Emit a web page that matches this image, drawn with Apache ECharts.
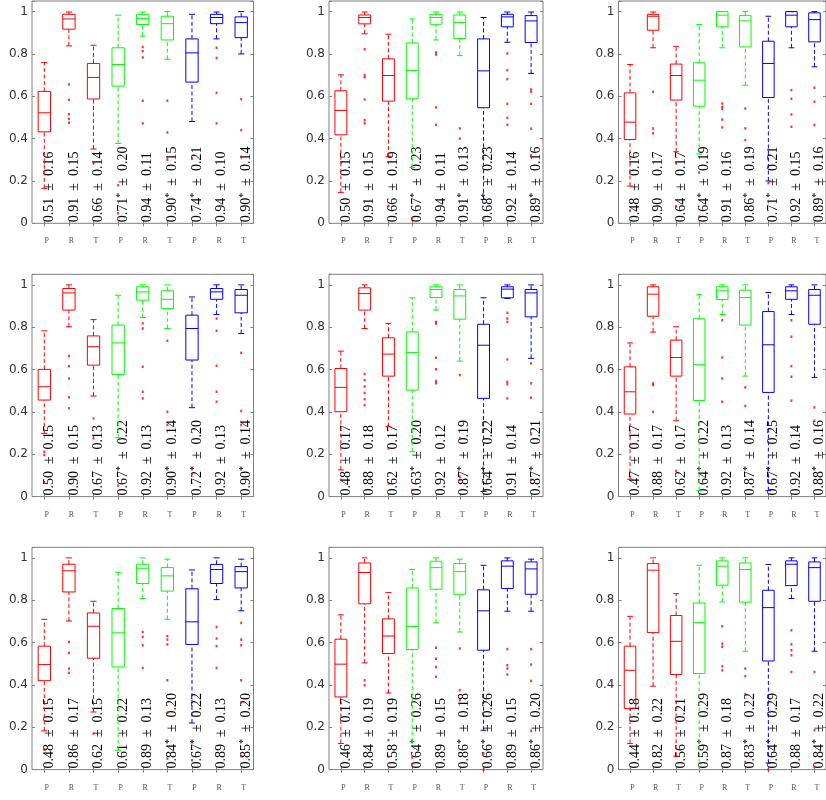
<!DOCTYPE html>
<html><head><meta charset="utf-8">
<script src="https://cdn.jsdelivr.net/npm/echarts@6/dist/echarts.min.js"></script>
<style>html,body{margin:0;padding:0;background:#fff}#c{width:826px;height:800px}</style>
</head><body><div id="c"></div>
<script>
// ---------- data ----------
const categories = ['P','R','T','P','R','T','P','R','T'];
const boxColorIndex = [0,0,0,1,1,1,2,2,2];
const yTicks = [0, 0.2, 0.4, 0.6, 0.8, 1];

// box stats per box: [min(whisker), q1, median, q3, max(whisker)]
const panel1Stats = [[0.165,0.432,0.522,0.623,0.759],[0.838,0.917,0.965,0.987,0.998],[0.351,0.587,0.689,0.755,0.841],[0.377,0.648,0.750,0.829,0.983],[0.884,0.939,0.967,0.987,0.998],[0.775,0.866,0.943,0.978,1.000],[0.481,0.667,0.805,0.871,0.987],[0.871,0.943,0.972,0.987,0.998],[0.800,0.877,0.948,0.975,1.000]];
const panel2Stats = [[0.146,0.418,0.533,0.626,0.701],[0.895,0.942,0.972,0.984,0.998],[0.315,0.577,0.698,0.777,0.893],[0.264,0.588,0.722,0.852,0.965],[0.866,0.940,0.972,0.987,0.998],[0.792,0.873,0.948,0.984,0.998],[0.113,0.546,0.720,0.871,0.972],[0.855,0.928,0.975,0.987,0.998],[0.708,0.854,0.956,0.981,0.998]];
const panel3Stats = [[0.176,0.396,0.478,0.616,0.750],[0.829,0.912,0.978,0.987,0.998],[0.338,0.582,0.698,0.752,0.836],[0.327,0.553,0.676,0.758,0.939],[0.829,0.928,0.983,1.000,1.000],[0.652,0.833,0.956,0.981,1.000],[0.200,0.594,0.755,0.860,0.978],[0.829,0.928,0.983,1.000,1.000],[0.739,0.857,0.962,0.994,1.000]];
const panel4Stats = [[0.299,0.456,0.519,0.601,0.783],[0.802,0.881,0.962,0.983,1.000],[0.475,0.621,0.708,0.759,0.836],[0.278,0.577,0.726,0.810,0.951],[0.846,0.928,0.967,0.991,1.000],[0.794,0.888,0.932,0.972,1.000],[0.420,0.645,0.794,0.857,0.943],[0.860,0.932,0.967,0.983,1.000],[0.770,0.868,0.951,0.978,1.000]];
const panel5Stats = [[0.126,0.401,0.516,0.605,0.687],[0.794,0.881,0.959,0.986,1.000],[0.330,0.569,0.673,0.750,0.818],[0.212,0.503,0.681,0.778,0.939],[0.881,0.940,0.978,0.991,1.000],[0.640,0.838,0.948,0.978,1.000],[0.024,0.464,0.715,0.814,0.939],[0.936,0.939,0.980,0.991,1.000],[0.653,0.849,0.962,0.978,1.000]];
const panel6Stats = [[0.082,0.390,0.495,0.613,0.726],[0.777,0.852,0.956,0.991,1.000],[0.358,0.569,0.657,0.739,0.802],[0.028,0.454,0.623,0.840,0.954],[0.860,0.931,0.972,0.991,1.000],[0.569,0.810,0.940,0.975,1.000],[0.028,0.492,0.717,0.874,0.964],[0.860,0.932,0.972,0.991,1.000],[0.563,0.814,0.951,0.978,1.000]];
const panel7Stats = [[0.183,0.420,0.496,0.583,0.710],[0.702,0.839,0.939,0.970,1.000],[0.272,0.526,0.677,0.740,0.795],[0.091,0.485,0.646,0.761,0.932],[0.808,0.879,0.951,0.970,1.000],[0.710,0.843,0.915,0.954,0.994],[0.220,0.591,0.698,0.854,0.943],[0.803,0.879,0.945,0.969,1.000],[0.750,0.858,0.935,0.959,0.994]];
const panel8Stats = [[0.123,0.343,0.498,0.616,0.731],[0.504,0.783,0.931,0.976,1.000],[0.362,0.548,0.631,0.712,0.836],[0.131,0.567,0.676,0.858,0.945],[0.693,0.852,0.954,0.984,1.000],[0.650,0.828,0.935,0.973,0.994],[0.186,0.564,0.750,0.849,0.965],[0.748,0.855,0.961,0.986,1.000],[0.748,0.828,0.948,0.981,0.994]];
const panel9Stats = [[0.123,0.288,0.469,0.583,0.724],[0.394,0.647,0.942,0.973,1.000],[0.063,0.449,0.606,0.728,0.831],[0.000,0.454,0.694,0.787,0.965],[0.792,0.871,0.961,0.986,1.000],[0.559,0.791,0.945,0.976,1.000],[0.031,0.513,0.765,0.847,0.969],[0.808,0.869,0.970,0.986,1.000],[0.559,0.795,0.954,0.981,1.000]];

// outliers per box
const panel1Outliers = [[],[0.656,0.583,0.515,0.493,0.475],[0.283],[0.180,0.047],[0.833,0.813,0.783,0.579,0.472],[0.579,0.429,0.300],[0.307,0.063],[0.829,0.781,0.616,0.472],[0.586,0.440,0.314]];
const panel2Outliers = [[],[0.822,0.700,0.690,0.585,0.487,0.472],[0.082],[0.019],[0.807,0.797,0.547,0.465],[0.448,0.400],[0.024],[0.802,0.723,0.681,0.564,0.498,0.465],[0.632,0.621,0.564,0.447,0.322]];
const panel3Outliers = [[0.060],[0.621,0.448,0.425],[0.283,0.079],[0.240,0.031],[0.566,0.550,0.540,0.490,0.453],[0.542,0.448,0.393],[0.190],[0.629,0.588,0.514,0.456],[0.640,0.574,0.464]];
const panel4Outliers = [[0.212,0.197,0.068],[0.664,0.616,0.558,0.469,0.417],[0.369,0.275],[0.052],[0.818,0.794,0.613,0.495,0.464],[0.736,0.400,0.338],[0.107],[0.841,0.783,0.618,0.495,0.448],[0.679,0.404,0.338]];
const panel5Outliers = [[0.079],[0.579,0.550,0.520,0.490,0.460,0.432],[0.228,0.063],[0.031],[0.825,0.818,0.656,0.602,0.546,0.535],[0.574,0.275,0.094,0.079],[],[0.868,0.841,0.825,0.648,0.542,0.531,0.464],[0.629,0.535,0.467,0.294,0.079]];
const panel6Outliers = [[],[0.535,0.527,0.400],[0.121],[],[0.833,0.657,0.558,0.448],[0.516,0.428],[],[0.833,0.755,0.616,0.566,0.453],[0.421,0.358]];
const panel7Outliers = [[0.094],[0.603,0.551,0.477,0.457],[0.170],[],[0.650,0.627,0.587,0.480],[0.630,0.614,0.591,0.422,0.268,0.052],[0.131,0.044],[0.674,0.619,0.583,0.480],[0.693,0.614,0.587,0.422,0.317,0.063]];
const panel8Outliers = [[],[0.422,0.398],[0.280,0.139,0.060],[0.057,0.025],[0.576,0.524,0.485,0.438],[0.572,0.375,0.328],[0.076,0.000],[0.569,0.493,0.477,0.449],[0.569,0.496,0.419,0.183]];
const panel9Outliers = [[],[],[],[],[0.677,0.595,0.580,0.488,0.469],[0.477,0.441,0.356,0.036],[0.000],[0.658,0.592,0.564,0.540,0.461],[0.461,0.186,0.013]];

// annotation texts: mean (with * mark) and std
const panel1Means = ['0.51','0.91','0.66','0.71*','0.94','0.90*','0.74*','0.94','0.90*'];
const panel1Stds  = ['0.16','0.15','0.14','0.20','0.11','0.15','0.21','0.10','0.14'];
const panel2Means = ['0.50','0.91','0.66','0.67*','0.94','0.91*','0.68*','0.92','0.89*'];
const panel2Stds  = ['0.15','0.15','0.19','0.23','0.11','0.13','0.23','0.14','0.16'];
const panel3Means = ['0.48','0.90','0.64','0.64*','0.91','0.86*','0.71*','0.92','0.89*'];
const panel3Stds  = ['0.16','0.17','0.17','0.19','0.16','0.19','0.21','0.15','0.16'];
const panel4Means = ['0.50','0.90','0.67','0.67*','0.92','0.90*','0.72*','0.92','0.90*'];
const panel4Stds  = ['0.15','0.15','0.13','0.22','0.13','0.14','0.20','0.13','0.14'];
const panel5Means = ['0.48','0.88','0.62','0.63*','0.92','0.87*','0.64*','0.91','0.87*'];
const panel5Stds  = ['0.17','0.18','0.17','0.20','0.12','0.19','0.22','0.14','0.21'];
const panel6Means = ['0.47','0.88','0.62','0.64*','0.92','0.87*','0.67*','0.92','0.88*'];
const panel6Stds  = ['0.17','0.17','0.17','0.22','0.13','0.14','0.25','0.14','0.16'];
const panel7Means = ['0.48','0.86','0.62','0.61','0.89','0.84*','0.67*','0.89','0.85*'];
const panel7Stds  = ['0.15','0.17','0.15','0.22','0.13','0.20','0.22','0.13','0.20'];
const panel8Means = ['0.46','0.84','0.58','0.64*','0.89','0.86*','0.66*','0.89','0.86*'];
const panel8Stds  = ['0.17','0.19','0.19','0.26','0.15','0.18','0.26','0.15','0.20'];
const panel9Means = ['0.44','0.82','0.56','0.59*','0.87','0.83*','0.64*','0.88','0.84*'];
const panel9Stds  = ['0.18','0.22','0.21','0.29','0.18','0.22','0.29','0.17','0.22'];

// ---------- layout / style ----------
const palette = ['#ff0000', '#00ff00', '#0000ff'];
const colLeft = [32, 329, 618.5];
const colWidth = [221.5, 214, 214];
const rowTop = [1, 274.3, 547.3];
const gridHeight = 222.3;
const xLabelMargin = [14, 14, 14];
const frameColor = '#808080';

const panels = [
  [panel1Stats, panel1Outliers, panel1Means, panel1Stds],
  [panel2Stats, panel2Outliers, panel2Means, panel2Stds],
  [panel3Stats, panel3Outliers, panel3Means, panel3Stds],
  [panel4Stats, panel4Outliers, panel4Means, panel4Stds],
  [panel5Stats, panel5Outliers, panel5Means, panel5Stds],
  [panel6Stats, panel6Outliers, panel6Means, panel6Stds],
  [panel7Stats, panel7Outliers, panel7Means, panel7Stds],
  [panel8Stats, panel8Outliers, panel8Means, panel8Stds],
  [panel9Stats, panel9Outliers, panel9Means, panel9Stds]
];

function renderBox(params, api) {
  const i = api.value(0);
  const c = palette[boxColorIndex[i]];
  const band = api.size([1, 0])[0];
  const hw = band * 0.25, cw = band * 0.125;
  const pMin = api.coord([i, api.value(1)]);
  const pQ1 = api.coord([i, api.value(2)]);
  const pMed = api.coord([i, api.value(3)]);
  const pQ3 = api.coord([i, api.value(4)]);
  const pMax = api.coord([i, api.value(5)]);
  const x = pMin[0];
  const solid = { stroke: c, lineWidth: 1, fill: null };
  const dashed = { stroke: c, lineWidth: 1, lineDash: [4, 2.5], fill: null };
  return { type: 'group', children: [
    { type: 'line', shape: { x1: x, y1: pQ3[1], x2: x, y2: pMax[1] }, style: dashed },
    { type: 'line', shape: { x1: x, y1: pMin[1], x2: x, y2: pQ1[1] }, style: dashed },
    { type: 'line', shape: { x1: x - cw, y1: pMax[1], x2: x + cw, y2: pMax[1] }, style: solid },
    { type: 'line', shape: { x1: x - cw, y1: pMin[1], x2: x + cw, y2: pMin[1] }, style: solid },
    { type: 'rect', shape: { x: x - hw, y: pQ3[1], width: 2 * hw, height: pQ1[1] - pQ3[1] }, style: solid },
    { type: 'line', shape: { x1: x - hw, y1: pMed[1], x2: x + hw, y2: pMed[1] }, style: solid }
  ]};
}

function makeTextRenderer(means, stds) {
  return function (params, api) {
    const i = api.value(0);
    const p = api.coord([i, api.value(1)]);
    const m = means[i];
    const star = m.indexOf('*') >= 0;
    const base = m.replace('*', '');
    const txt = '{n|' + base + '}' + (star ? '{s|*}' : '') + '{n|\u2002\u00b1\u2002' + stds[i] + '}';
    return {
      type: 'text', x: p[0] + 5, y: p[1] - 1, rotation: Math.PI / 2,
      style: {
        text: txt, align: 'left', verticalAlign: 'middle', fill: '#000',
        rich: {
          n: { fontFamily: 'Liberation Serif', fontSize: 14, lineHeight: 16, fill: '#000' },
          s: { fontFamily: 'Liberation Serif', fontSize: 10, lineHeight: 10, verticalAlign: 'top', fill: '#000' }
        }
      }
    };
  };
}

const grids = [], xAxes = [], yAxes = [], series = [];
panels.forEach((pd, k) => {
  const r = Math.floor(k / 3), c = k % 3;
  const [stats, outs, means, stds] = pd;
  grids.push({ left: colLeft[c], top: rowTop[r], width: colWidth[c], height: gridHeight,
    show: true, borderColor: frameColor, borderWidth: 1, backgroundColor: 'transparent' });
  const tick = { show: true, inside: true, length: 3, alignWithLabel: true, lineStyle: { color: frameColor, width: 1 } };
  xAxes.push({ gridIndex: k, type: 'category', data: categories, boundaryGap: true, position: 'bottom',
    axisLine: { show: false }, axisTick: tick, splitLine: { show: false },
    axisLabel: { interval: 0, margin: xLabelMargin[r], fontFamily: 'Liberation Serif', fontSize: 8, color: '#555', padding: [0, 0, 0, 5] } });
  xAxes.push({ gridIndex: k, type: 'category', data: categories, boundaryGap: true, position: 'top',
    axisLine: { show: false }, axisTick: tick, splitLine: { show: false }, axisLabel: { show: false } });
  const yt = { show: true, inside: true, length: 3, lineStyle: { color: frameColor, width: 1 } };
  yAxes.push({ gridIndex: k, type: 'value', min: 0, max: 1.05, interval: 0.2, position: 'left',
    axisLine: { show: false }, axisTick: yt, splitLine: { show: false },
    axisLabel: { margin: 4, fontFamily: 'DejaVu Sans', fontSize: 12, color: '#333',
      formatter: v => (yTicks.some(t => Math.abs(t - v) < 1e-6) ? String(Math.round(v * 10) / 10) : '') } });
  yAxes.push({ gridIndex: k, type: 'value', min: 0, max: 1.05, interval: 0.2, position: 'right',
    axisLine: { show: false }, axisTick: yt, splitLine: { show: false }, axisLabel: { show: false } });

  series.push({ type: 'custom', xAxisIndex: 2 * k, yAxisIndex: 2 * k, silent: true, z: 1,
    renderItem: makeTextRenderer(means, stds),
    data: categories.map((_, i) => [i, 0]) });
  series.push({ type: 'custom', xAxisIndex: 2 * k, yAxisIndex: 2 * k, silent: true, z: 2,
    renderItem: renderBox,
    data: stats.map((s, i) => [i, s[0], s[1], s[2], s[3], s[4]]) });
  const od = [];
  outs.forEach((list, i) => list.forEach(v => od.push([i, v])));
  series.push({ type: 'scatter', xAxisIndex: 2 * k, yAxisIndex: 2 * k, silent: true, z: 3,
    symbol: 'rect', symbolSize: [2, 2.5], itemStyle: { color: '#ff0000' }, data: od });
});

const chart = echarts.init(document.getElementById('c'), null, { renderer: 'canvas' });
chart.setOption({ animation: false, backgroundColor: '#fff', grid: grids, xAxis: xAxes, yAxis: yAxes, series: series });
</script>
</body></html>
